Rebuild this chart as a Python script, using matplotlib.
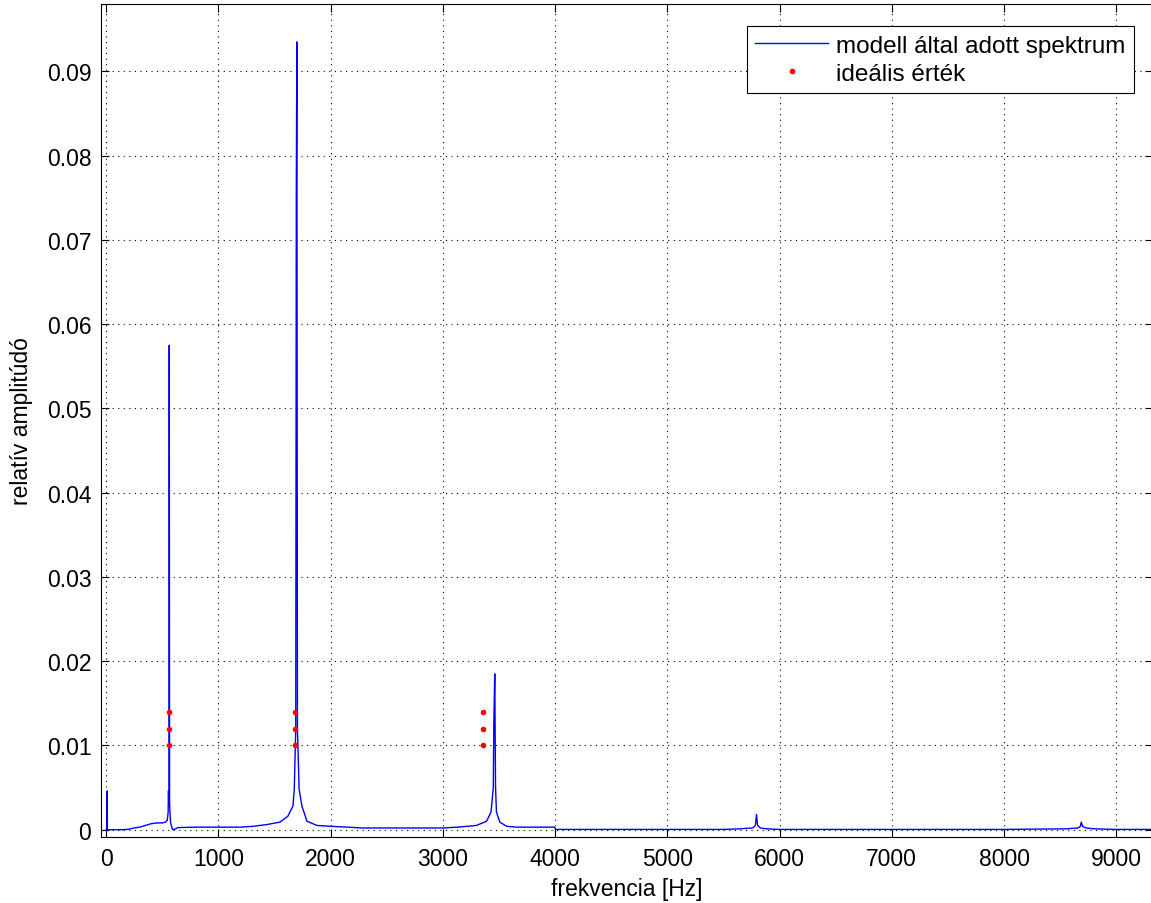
import matplotlib
matplotlib.use('Agg')
import matplotlib.pyplot as plt

plt.rcParams['font.family'] = ['Liberation Sans', 'DejaVu Sans']

# spektrum pontjai (leolvasva)
freq = [0, 8, 10, 12, 150, 200, 250, 300, 350, 400, 450, 500, 530, 545, 553,
        556, 558, 561, 563, 566, 575, 590, 600, 620, 640, 800, 1000, 1200,
        1310, 1430, 1550, 1620, 1665, 1677, 1690, 1695, 1700, 1705, 1720,
        1745, 1790, 1880, 2000, 2150, 2280, 2600, 3000, 3135, 3300, 3390,
        3430, 3450, 3455, 3463, 3470, 3478, 3508, 3568, 3657, 3800, 3995,
        4005, 4500, 5000, 5500, 5645, 5760, 5785, 5795, 5805, 5830, 5883,
        6000, 6500, 7000, 7500, 8000, 8554, 8660, 8680, 8688, 8700, 8730,
        8806, 9000, 9400]
amp = [0, 0, 0.0046, 0, 0, 0.00005, 0.0002, 0.0003, 0.0005, 0.0007, 0.0008,
       0.0008, 0.0009, 0.0011, 0.002, 0.0046, 0.0035, 0.0035, 0.0575, 0.003,
       0.0008, 0.0001, 0, 0.0001, 0.00025, 0.0003, 0.0003, 0.0003,
       0.0004, 0.0006, 0.0009, 0.0016, 0.0028, 0.0048, 0.012, 0.076, 0.0935,
       0.012, 0.0048, 0.0028, 0.001, 0.0005, 0.0004, 0.0003, 0.0002, 0.0002,
       0.0002, 0.0003, 0.0005, 0.001, 0.0021, 0.005, 0.0128, 0.0185, 0.005,
       0.0021, 0.0009, 0.0004, 0.0003, 0.0003, 0.0003, 0.00003, 0.00003,
       0.00003, 0.00003, 0.0001, 0.0002, 0.0005, 0.0018, 0.0005, 0.0002,
       0.0001, 0.00003, 0.00003, 0.00003, 0.00003, 0.00003, 0.0001, 0.0002,
       0.0004, 0.0009, 0.0004, 0.0002, 0.0001, 0.00003, 0.00003]

# ideális értékek
ideal_f = [565, 565, 565, 1685, 1685, 1685, 3357, 3357, 3357]
ideal_a = [0.010, 0.012, 0.014, 0.010, 0.012, 0.014, 0.010, 0.012, 0.014]

xticks = [0, 1000, 2000, 3000, 4000, 5000, 6000, 7000, 8000, 9000]
yticks = [0, 0.01, 0.02, 0.03, 0.04, 0.05, 0.06, 0.07, 0.08, 0.09]
ylabels = ['0', '0.01', '0.02', '0.03', '0.04', '0.05', '0.06', '0.07',
           '0.08', '0.09']

fig = plt.figure(figsize=(11.51, 9.04), dpi=100)
ax = fig.add_axes([101 / 1151, 1 - 838 / 904, 1 - 101 / 1151 + 0.002,
                   833 / 904])

ax.plot(freq, amp, color=(0, 0, 1), lw=1.0,
        label='modell által adott spektrum')
ax.plot(ideal_f, ideal_a, '.', color='red', markersize=6,
        label='ideális érték')

ax.set_xlim(-45, 9330)
ax.set_ylim(-0.00087, 0.098)
ax.set_xticks(xticks)
ax.set_xticklabels([str(t) for t in xticks])
ax.set_yticks(yticks)
ax.set_yticklabels(ylabels)
ax.tick_params(direction='in', top=True, right=True, length=6,
               labelsize=16.5, pad=7)
ax.grid(True, color='black', linestyle=(0, (1, 4)), linewidth=0.8)
for s in ax.spines.values():
    s.set_linewidth(0.8)

ax.set_xlabel('frekvencia [Hz]', fontsize=16.5, labelpad=5)
ax.set_ylabel('relatív amplitúdó', fontsize=16.5, labelpad=10)

leg = ax.legend(loc='upper right', fontsize=17.5, fancybox=False,
                edgecolor='black', framealpha=1, borderpad=0.35,
                borderaxespad=0, handlelength=3.0, handletextpad=0.35,
                labelspacing=0.25, bbox_to_anchor=(0.982, 0.9736))
leg.get_frame().set_linewidth(0.8)

fig.savefig('out.png', dpi=100)
